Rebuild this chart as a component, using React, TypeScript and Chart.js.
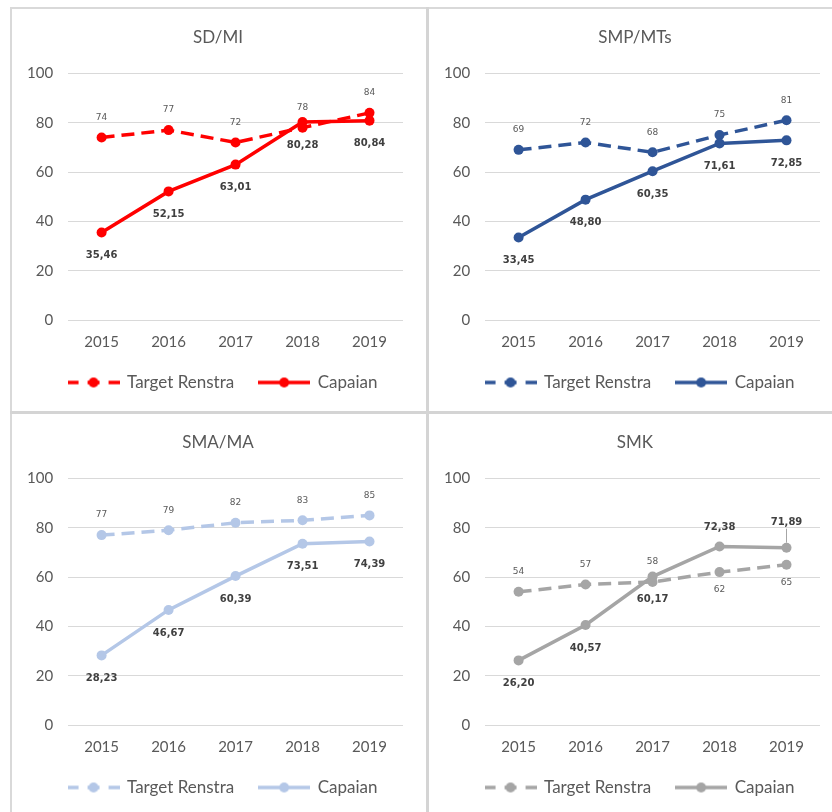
import React, { useEffect, useRef } from 'react';
import { Chart, registerables } from 'chart.js';

Chart.register(...registerables);

// ---- Data ----
const years = ['2015', '2016', '2017', '2018', '2019'];
const seriesNames = ['Target Renstra', 'Capaian'];
const yMin = 0;
const yMax = 100;
const yStep = 20;

const sdTarget = [74, 77, 72, 78, 84];
const sdCapaian = [35.46, 52.15, 63.01, 80.28, 80.84];

const smpTarget = [69, 72, 68, 75, 81];
const smpCapaian = [33.45, 48.8, 60.35, 71.61, 72.85];

const smaTarget = [77, 79, 82, 83, 85];
const smaCapaian = [28.23, 46.67, 60.39, 73.51, 74.39];

const smkTarget = [54, 57, 58, 62, 65];
const smkCapaian = [26.2, 40.57, 60.17, 72.38, 71.89];

// ---- Styling / layout ----
const FONT = 'Lato, "Open Sans", sans-serif';
const TEXT = '#595959';
const GRID = '#d9d9d9';

type Side = 'above' | 'below';

interface PanelDef {
  title: string;
  color: string;
  target: number[];
  capaian: number[];
  left: number;
  top: number;
  targetSides: Side[];
  capaianSides: Side[];
  leader?: number[];
}

const allAbove: Side[] = ['above', 'above', 'above', 'above', 'above'];
const allBelow: Side[] = ['below', 'below', 'below', 'below', 'below'];

const panels: PanelDef[] = [
  { title: 'SD/MI', color: '#ff0000', target: sdTarget, capaian: sdCapaian, left: 12, top: 9, targetSides: allAbove, capaianSides: allBelow },
  { title: 'SMP/MTs', color: '#2f5597', target: smpTarget, capaian: smpCapaian, left: 429, top: 9, targetSides: allAbove, capaianSides: allBelow },
  { title: 'SMA/MA', color: '#b4c7e7', target: smaTarget, capaian: smaCapaian, left: 12, top: 414, targetSides: allAbove, capaianSides: allBelow },
  {
    title: 'SMK', color: '#a5a5a5', target: smkTarget, capaian: smkCapaian, left: 429, top: 414,
    targetSides: ['above', 'above', 'above', 'below', 'below'],
    capaianSides: ['below', 'below', 'below', 'above', 'above'],
    leader: [4],
  },
];

const PANEL_W = 413;
const PANEL_H = 401;

function makeLegendMarker(color: string, dashed: boolean): HTMLCanvasElement {
  const c = document.createElement('canvas');
  c.width = 52;
  c.height = 12;
  const g = c.getContext('2d')!;
  g.strokeStyle = color;
  g.fillStyle = color;
  g.lineWidth = 3.5;
  g.beginPath();
  if (dashed) {
    g.moveTo(0, 6); g.lineTo(11, 6);
    g.moveTo(20, 6); g.lineTo(32, 6);
    g.moveTo(41, 6); g.lineTo(52, 6);
  } else {
    g.moveTo(0, 6); g.lineTo(52, 6);
  }
  g.stroke();
  g.beginPath();
  g.arc(26, 6, 5, 0, Math.PI * 2);
  g.fill();
  return c;
}

function fmtCapaian(v: number) {
  return v.toFixed(2).replace('.', ',');
}

function PanelChart({ def }: { def: PanelDef }) {
  const ref = useRef<HTMLCanvasElement>(null);
  useEffect(() => {
    if (!ref.current) return;
    const markers = [makeLegendMarker(def.color, true), makeLegendMarker(def.color, false)];
    const labelPlugin = {
      id: 'valueLabels',
      afterDatasetsDraw(chart: any) {
        const ctx = chart.ctx;
        ctx.save();
        ctx.textAlign = 'center';
        ctx.textBaseline = 'middle';
        chart.data.datasets.forEach((ds: any, di: number) => {
          const meta = chart.getDatasetMeta(di);
          const sides = di === 0 ? def.targetSides : def.capaianSides;
          meta.data.forEach((pt: any, i: number) => {
            const v = ds.data[i] as number;
            let text: string;
            let y: number;
            if (di === 0) {
              ctx.font = '9px "DejaVu Sans", sans-serif';
              ctx.fillStyle = TEXT;
              text = String(v);
              y = sides[i] === 'above' ? pt.y - 20 : pt.y + 18;
            } else {
              ctx.font = 'bold 10px "DejaVu Sans", sans-serif';
              ctx.fillStyle = '#404040';
              text = fmtCapaian(v);
              const isLeader = def.leader && def.leader.includes(i);
              y = sides[i] === 'above' ? pt.y - (isLeader ? 25 : 19) : pt.y + 23;
              if (isLeader) {
                ctx.save();
                ctx.strokeStyle = '#a6a6a6';
                ctx.lineWidth = 1;
                ctx.beginPath();
                ctx.moveTo(pt.x, y + 6);
                ctx.lineTo(pt.x, pt.y - 5);
                ctx.stroke();
                ctx.restore();
              }
            }
            ctx.fillText(text, pt.x, y);
          });
        });
        ctx.restore();
      },
    };
    const shiftPlugin = {
      id: 'boxShift',
      afterLayout(chart: any) {
        if (chart.legend) {
          chart.legend.left += 9;
          chart.legend.right += 9;
        }
        if (chart.titleBlock) {
          chart.titleBlock.left += 4;
          chart.titleBlock.right += 4;
        }
      },
    };

    const chart = new Chart(ref.current, {
      type: 'line',
      data: {
        labels: years,
        datasets: [
          {
            label: seriesNames[0],
            data: def.target,
            borderColor: def.color,
            backgroundColor: def.color,
            pointBackgroundColor: def.color,
            pointBorderColor: def.color,
            borderWidth: 3.5,
            borderDash: [13, 7],
            pointRadius: 5,
            pointBorderWidth: 0,
            tension: 0,
            order: 1,
          },
          {
            label: seriesNames[1],
            data: def.capaian,
            borderColor: def.color,
            backgroundColor: def.color,
            pointBackgroundColor: def.color,
            pointBorderColor: def.color,
            borderWidth: 3.5,
            pointRadius: 5,
            pointBorderWidth: 0,
            tension: 0,
            order: 0,
          },
        ],
      },
      options: {
        animation: false,
        responsive: false,
        maintainAspectRatio: false,
        layout: { padding: { left: 13, right: 22, top: 0, bottom: 9 } },
        scales: {
          x: {
            offset: true,
            grid: { display: false, drawTicks: false },
            border: { display: false },
            ticks: { color: TEXT, font: { family: FONT, size: 15 }, padding: 13 },
            afterFit: (scale: any) => {
              scale.height -= 15;
            },
          },
          y: {
            min: yMin,
            max: yMax,
            grid: { color: GRID, lineWidth: 1, drawTicks: false },
            border: { display: false },
            ticks: { stepSize: yStep, color: TEXT, font: { family: FONT, size: 15 }, padding: 15 },
            afterFit: (scale: any) => {
              scale.width -= 13;
            },
          },
        },
        plugins: {
          title: {
            display: true,
            text: def.title,
            color: TEXT,
            font: { family: FONT, size: 17, weight: 'normal' },
            padding: { top: 18, bottom: 26 },
          },
          legend: {
            display: true,
            position: 'bottom',
            labels: {
              usePointStyle: true,
              pointStyleWidth: 50,
              padding: 25,
              color: TEXT,
              font: { family: FONT, size: 17 },
              generateLabels: () =>
                seriesNames.map((n, i) => ({
                  text: n,
                  pointStyle: markers[i],
                  fillStyle: def.color,
                  strokeStyle: def.color,
                  lineWidth: 0,
                  hidden: false,
                  datasetIndex: i,
                  fontColor: TEXT,
                })),
            },
          },
          tooltip: { enabled: false },
        },
      },
      plugins: [labelPlugin, shiftPlugin],
    } as any);
    return () => chart.destroy();
  }, [def]);

  return (
    <canvas
      ref={ref}
      width={PANEL_W}
      height={PANEL_H}
      style={{ position: 'absolute', left: def.left, top: def.top, width: PANEL_W, height: PANEL_H }}
    />
  );
}

export default function App() {
  return (
    <div
      style={{
        position: 'absolute',
        left: 0,
        top: 0,
        width: 832,
        height: 812,
        overflow: 'hidden',
        background: '#ffffff',
      }}
    >
      {/* outer frame: top and left */}
      <div style={{ position: 'absolute', left: 10, top: 7, width: 822, height: 2, background: '#d9d9d9' }} />
      <div style={{ position: 'absolute', left: 10, top: 7, width: 2, height: 805, background: '#d9d9d9' }} />
      {/* dividers */}
      <div style={{ position: 'absolute', left: 426, top: 7, width: 3, height: 805, background: '#d4d4d4' }} />
      <div style={{ position: 'absolute', left: 10, top: 411, width: 822, height: 3, background: '#d4d4d4' }} />
      {panels.map((p) => (
        <PanelChart key={p.title} def={p} />
      ))}
    </div>
  );
}
